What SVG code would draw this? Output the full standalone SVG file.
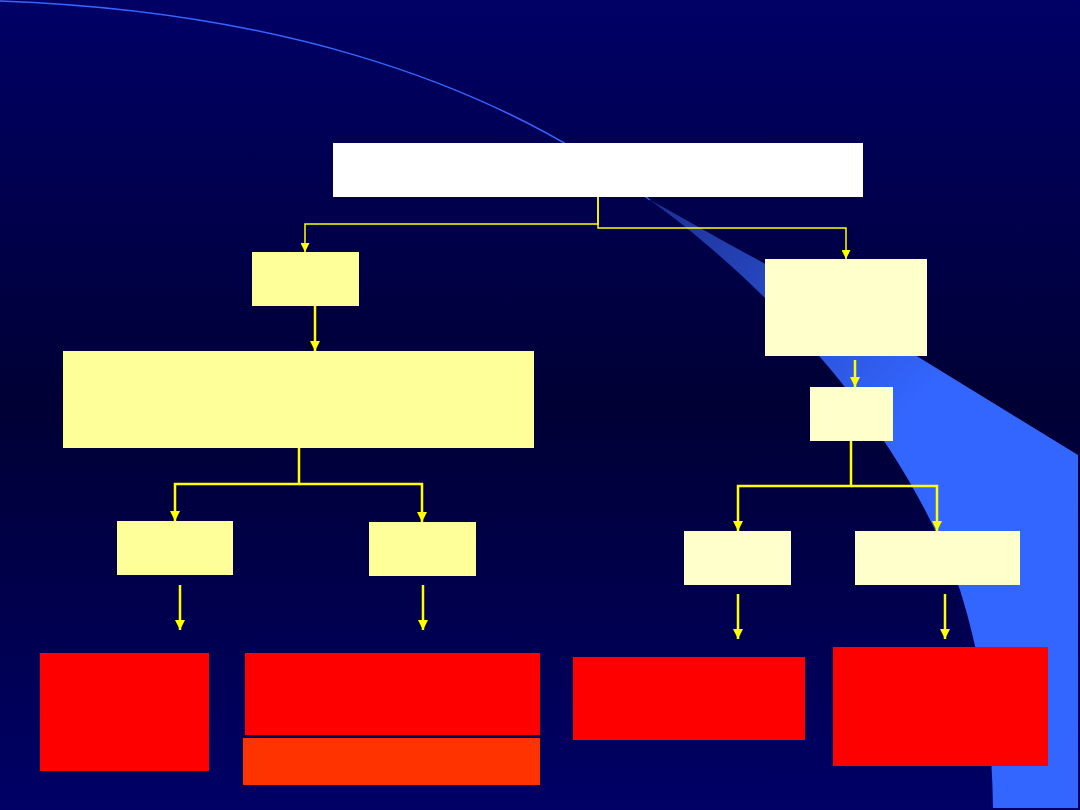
<svg xmlns="http://www.w3.org/2000/svg" width="1080" height="810" viewBox="0 0 1080 810">
  <defs>
    <linearGradient id="bg" x1="0" y1="0" x2="0" y2="1">
      <stop offset="0" stop-color="#000066"/>
      <stop offset="0.5" stop-color="#000035"/>
      <stop offset="1" stop-color="#000066"/>
    </linearGradient>
    <linearGradient id="swoosh" gradientUnits="userSpaceOnUse" x1="650" y1="200" x2="900" y2="420">
      <stop offset="0" stop-color="#1c2f90"/>
      <stop offset="1" stop-color="#3366ff"/>
    </linearGradient>
    <marker id="ah" viewBox="0 0 10 10" refX="10" refY="5" markerWidth="4" markerHeight="4" markerUnits="strokeWidth" orient="auto">
      <path d="M0,0 L10,5 L0,10 Z" fill="#ffff00"/>
    </marker>
    <marker id="ahs" viewBox="0 0 10 10" refX="10" refY="5" markerWidth="6" markerHeight="6" markerUnits="strokeWidth" orient="auto">
      <path d="M0,0 L10,5 L0,10 Z" fill="#ffff00"/>
    </marker>
  </defs>
  <style>
    .y { fill: #ffff99; }
    .p { fill: #ffffcc; }
    .r { fill: #ff0000; }
    .o { fill: #ff3300; }
    .thin { fill: none; stroke: #ffff00; stroke-width: 1.5; marker-end: url(#ahs); }
    .thick { fill: none; stroke: #ffff00; stroke-width: 2.5; marker-end: url(#ah); }
  </style>

  <rect x="0" y="0" width="1080" height="810" fill="url(#bg)"/>
  <path d="M0,1 C250,10 480,70 650,200" fill="none" stroke="#3366ff" stroke-width="1.5"/>
  <path d="M650,200 C760,280 900,420 960,590 C985,670 992,740 993,808 L1078,808 L1078,455 L780,272 C730,245 690,222 650,200 Z" fill="url(#swoosh)"/>

  <g id="connectors">
    <path class="thin" d="M598,197 V224 H305 V252"/>
    <path class="thin" d="M598,197 V228 H846 V259"/>
    <path class="thick" d="M315,306 V351"/>
    <path class="thick" d="M855,360 V387"/>
    <path class="thick" d="M299,448 V484 H175 V521"/>
    <path class="thick" d="M299,484 H422 V522"/>
    <path class="thick" d="M851,441 V486 H738 V531"/>
    <path class="thick" d="M851,486 H937 V531"/>
    <path class="thick" d="M180,585 V630"/>
    <path class="thick" d="M423,585 V630"/>
    <path class="thick" d="M738,594 V639"/>
    <path class="thick" d="M945,594 V639"/>
  </g>

  <g id="root"><rect x="333" y="143" width="530" height="54" fill="#ffffff"/></g>
  <g id="left1"><rect class="y" x="252" y="252" width="107" height="54"/></g>
  <g id="left2"><rect class="y" x="63" y="351" width="471" height="97"/></g>
  <g id="right1"><rect class="p" x="765" y="259" width="162" height="97"/></g>
  <g id="right2"><rect class="p" x="810" y="387" width="83" height="54"/></g>
  <g id="a"><rect class="y" x="117" y="521" width="116" height="54"/></g>
  <g id="b"><rect class="y" x="369" y="522" width="107" height="54"/></g>
  <g id="c"><rect class="p" x="684" y="531" width="107" height="54"/></g>
  <g id="d"><rect class="p" x="855" y="531" width="165" height="54"/></g>
  <g id="ra"><rect class="r" x="40" y="653" width="169" height="118"/></g>
  <g id="rb"><rect class="r" x="245" y="653" width="295" height="82"/></g>
  <g id="rb2"><rect class="o" x="243" y="738" width="297" height="47"/></g>
  <g id="rc"><rect class="r" x="573" y="657" width="232" height="83"/></g>
  <g id="rd"><rect class="r" x="833" y="647" width="215" height="119"/></g>
</svg>
